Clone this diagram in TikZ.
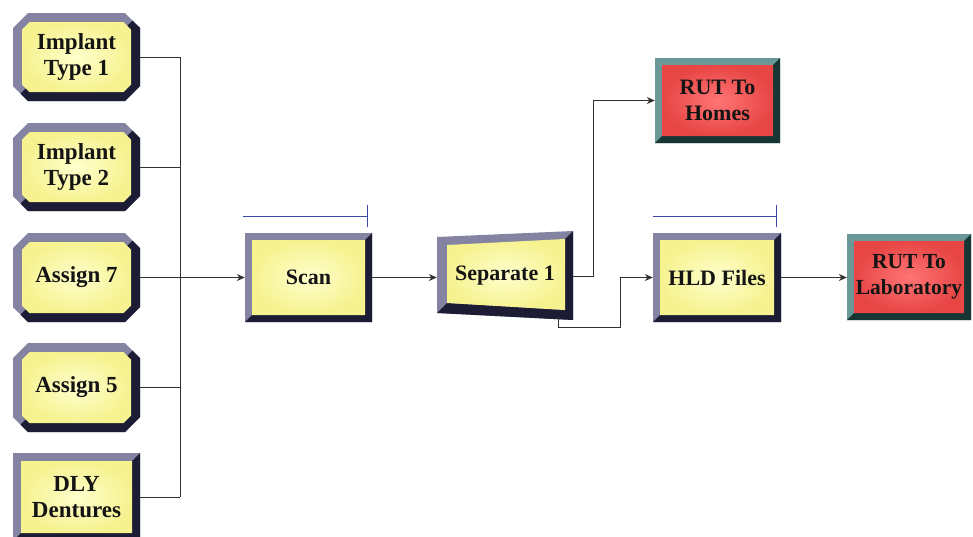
\documentclass[tikz,border=0pt]{standalone}
\usepackage{fontspec}
\setmainfont{Liberation Serif}
\usetikzlibrary{calc,arrows.meta}
\definecolor{yfill}{HTML}{F6F290}
\definecolor{yfillhi}{HTML}{FFFFCC}
\definecolor{ylight}{HTML}{8484A2}
\definecolor{ydark}{HTML}{1C1C34}
\definecolor{rfill}{HTML}{E84545}
\definecolor{rfillhi}{HTML}{FF7575}
\definecolor{rlight}{HTML}{6A9896}
\definecolor{rdark}{HTML}{163634}
\definecolor{barblue}{HTML}{3A48A8}
\definecolor{wire}{HTML}{303030}
\newcommand\bxfs{22}
\tikzset{
  boxtext/.style={inner sep=0pt, align=center, text=black!92,
    font=\bfseries\fontsize{\bxfs}{26}\selectfont},
  wire/.style={draw=wire, line width=0.9pt},
  flow/.style={wire, -{Stealth[length=8pt,width=7pt]}},
  bar/.style={draw=barblue, line width=1.1pt}
}
% name, x, y, W, H, chamfer, bevel, scheme, text
\newcommand\bbox[9]{%
 \begin{scope}[shift={(#2,#3)}]
  \pgfmathsetmacro\bxD{#6*0.5}
  \fill[#8light] (#6,0) -- ({#4-#6},0) -- (#4,#6) -- (#4,{#5-#6}) -- ({#4-#6},#5)
     -- (#6,#5) -- (0,{#5-#6}) -- (0,#6) -- cycle;
  \fill[#8dark] ({#4-#6/2},{#6/2}) -- (#4,#6) -- (#4,{#5-#6}) -- ({#4-#6},#5)
     -- (#6,#5) -- ({#6/2},{#5-#6/2})
     -- ({#7+\bxD/2},{#5-#7-\bxD/2}) -- ({#7+\bxD},{#5-#7}) -- ({#4-#7-\bxD},{#5-#7})
     -- ({#4-#7},{#5-#7-\bxD}) -- ({#4-#7},{#7+\bxD}) -- ({#4-#7-\bxD/2},{#7+\bxD/2}) -- cycle;
  \shade[inner color=#8fillhi, outer color=#8fill]
     ({#7+\bxD},#7) -- ({#4-#7-\bxD},#7) -- ({#4-#7},{#7+\bxD}) -- ({#4-#7},{#5-#7-\bxD})
     -- ({#4-#7-\bxD},{#5-#7}) -- ({#7+\bxD},{#5-#7}) -- (#7,{#5-#7-\bxD}) -- (#7,{#7+\bxD}) -- cycle;
  \node[boxtext, minimum width=#4pt, minimum height=#5pt] (#1) at ({#4/2},{#5/2}) {#9};
 \end{scope}}
\begin{document}
\begin{tikzpicture}[x=1pt, y=-1pt]
\useasboundingbox[fill=white] (0,0) rectangle (973,536);

% create modules
\renewcommand\bxfs{23}
\bbox{it1}{13}{13}{127}{88}{15}{9}{y}{Implant\\Type 1}
\bbox{it2}{13}{123}{127}{88}{15}{9}{y}{Implant\\Type 2}
\bbox{a7}{13}{233}{127}{89}{15}{9}{y}{Assign 7}
\bbox{a5}{13}{343}{127}{89}{15}{9}{y}{Assign 5}
\bbox{dly}{13}{453}{127}{88}{0}{8}{y}{DLY\\Dentures}

% process modules
\renewcommand\bxfs{22}
\bbox{scan}{245}{233}{127}{89}{0}{7}{y}{Scan}
\bbox{hld}{653}{233}{128}{89}{0}{7}{y}{HLD Files}
\bbox{homes}{655}{58}{125}{85}{0}{7}{r}{RUT To\\Homes}
\renewcommand\bxfs{21.5}
\bbox{lab}{847}{234}{124}{86}{0}{7}{r}{RUT To\\Laboratory}
\renewcommand\bxfs{22}

% separate (trapezoid)
\fill[ylight] (437,237) -- (573,231) -- (573,320) -- (437,313) -- cycle;
\fill[ydark] (573,231) -- (573,320) -- (437,313) -- (447,303) -- (565,310) -- (565,239) -- cycle;
\shade[inner color=yfillhi, outer color=yfill] (447,245) -- (565,239) -- (565,310) -- (447,303) -- cycle;
\node[boxtext, minimum width=136pt, minimum height=82pt] (sep) at (505,276) {Separate 1};

% blue bars
\draw[bar] ($(scan.north west)+(-2pt,16.5pt)$) -- ($(scan.north east)+(-5pt,16.5pt)$);
\draw[bar] ($(scan.north east)+(-5pt,6pt)$) -- ($(scan.north east)+(-5pt,28pt)$);
\draw[bar] ($(hld.north west)+(0pt,16.5pt)$) -- ($(hld.north east)+(-4.5pt,16.5pt)$);
\draw[bar] ($(hld.north east)+(-4.5pt,6pt)$) -- ($(hld.north east)+(-4.5pt,28pt)$);

% connectors
\coordinate (bus) at (180,0);
\draw[wire] (it1.east) -- (it1.east -| bus);
\draw[wire] (it2.east) -- (it2.east -| bus);
\draw[wire] (a5.east) -- (a5.east -| bus);
\draw[wire] (dly.east) -- (dly.east -| bus);
\draw[wire] (it1.east -| bus) -- (dly.east -| bus);
\draw[flow] (a7.east) -- (scan.west);
\draw[flow] (scan.east) -- (scan.east -| sep.west);
\draw[flow] (sep.east) -- ++(20pt,0) |- (homes.west);
\coordinate (s2) at (620,327);
\draw[flow] ($(sep.south east)+(-15pt,0)$) |- (s2) |- (hld.west);
\draw[flow] (hld.east) -- (hld.east -| lab.west);
\end{tikzpicture}
\end{document}
